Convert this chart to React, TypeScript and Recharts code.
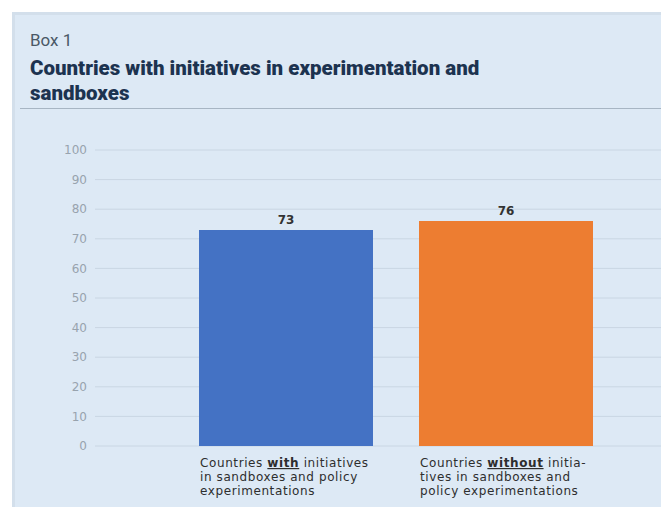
import React from 'react';
import { BarChart, Bar, XAxis, YAxis, CartesianGrid, Cell, LabelList } from 'recharts';

// chart values
const categories = ['with', 'without'];
const shares = [73, 76];
const barColors = ['#4472c4', '#ed7d31'];
const yTicks = [0, 10, 20, 30, 40, 50, 60, 70, 80, 90, 100];

// category labels, line by line; the word in [] is underlined
const labelLines: string[][] = [
  ['Countries [with] initiatives', 'in sandboxes and policy', 'experimentations'],
  ['Countries [without] initia-', 'tives in sandboxes and', 'policy experimentations'],
];

const data = categories.map((c, i) => ({ name: c, value: shares[i] }));

const BAR_W = 174;
const FONT = '"DejaVu Sans", sans-serif';

const CategoryTick = (props: any) => {
  const { x, y, index } = props;
  const lines = labelLines[index] || [];
  const left = x - BAR_W / 2 + 1;
  return (
    <g>
      {lines.map((line, i) => {
        const m = line.match(/^(.*)\[(.*)\](.*)$/);
        return (
          <text key={i} x={left} y={y + 13 + i * 14} fontSize={12} letterSpacing={0.6}
            fill="#2e2e2e" fontFamily={FONT}>
            {m ? (
              <>
                <tspan>{m[1]}</tspan>
                <tspan style={{ textDecoration: 'underline' }} fontWeight={700}>{m[2]}</tspan>
                <tspan>{m[3]}</tspan>
              </>
            ) : line}
          </text>
        );
      })}
    </g>
  );
};

export default function App() {
  return (
    <div style={{ position: 'fixed', left: 0, top: 0, width: 661, height: 507, background: '#fff', overflow: 'hidden' }}>
      <div style={{
        position: 'absolute', left: 12, top: 12, width: 649, height: 495,
        background: '#dde9f5', borderLeft: '3px solid #d3dfeb', borderTop: '3px solid #d3dfeb',
      }} />
      <div style={{ position: 'absolute', left: 30, top: 30, fontFamily: 'Roboto, sans-serif', fontSize: 17, color: '#4a5866' }}>
        Box 1
      </div>
      <div style={{
        position: 'absolute', left: 30, top: 56, width: 620, fontFamily: 'Roboto, sans-serif',
        fontWeight: 900, fontSize: 20.5, lineHeight: '25px', color: '#1c3350',
      }}>
        Countries with initiatives in experimentation and<br />sandboxes
      </div>
      <div style={{ position: 'absolute', left: 20, top: 108, width: 641, height: 1, background: '#a7b5c3' }} />
      <div style={{ position: 'absolute', left: 0, top: 0 }}>
        <BarChart width={661} height={507} data={data}
          margin={{ top: 150, right: 0, bottom: 0, left: 0 }}>
          <CartesianGrid vertical={false} stroke="#c9d6e3" />
          <XAxis dataKey="name" height={61} axisLine={false} tickLine={false}
            padding={{ left: 81, right: 45 }} interval={0} tick={<CategoryTick />} />
          <YAxis width={95} domain={[0, 100]} ticks={yTicks} axisLine={false} tickLine={false}
            tickSize={0} tickMargin={8} tick={{ fontSize: 12, fill: '#98a3ae', fontFamily: FONT }} />
          <Bar dataKey="value" barSize={BAR_W} isAnimationActive={false}>
            {data.map((d, i) => <Cell key={d.name} fill={barColors[i]} />)}
            <LabelList dataKey="value" position="top" offset={6}
              style={{ fontSize: 12, fill: '#333', fontFamily: FONT, fontWeight: 700 }} />
          </Bar>
        </BarChart>
      </div>
    </div>
  );
}
